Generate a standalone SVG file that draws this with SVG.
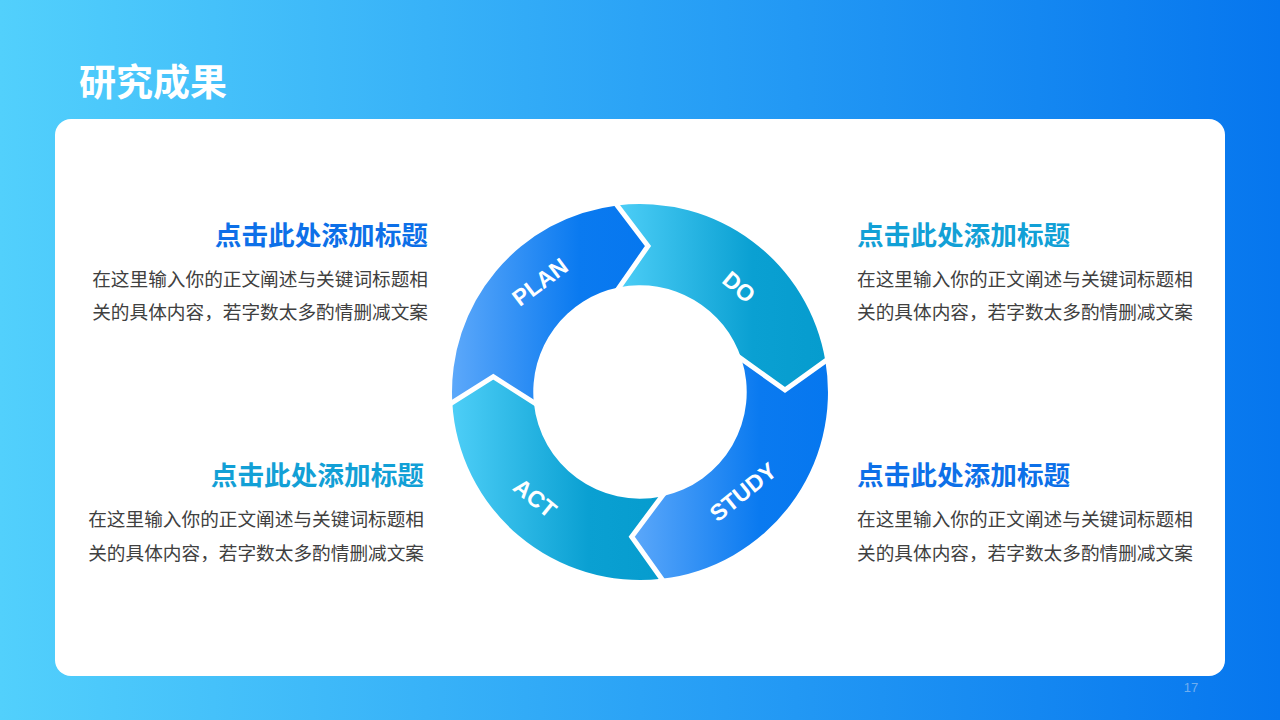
<svg xmlns="http://www.w3.org/2000/svg" width="1280" height="720" viewBox="0 0 1280 720">
  <defs>
    <linearGradient id="bg" x1="0" y1="0" x2="1" y2="0">
      <stop offset="0" stop-color="#52D0FC"/>
      <stop offset="0.5" stop-color="#2BA3F6"/>
      <stop offset="1" stop-color="#0676EE"/>
    </linearGradient>
    <linearGradient id="gBlue" x1="0" y1="0" x2="1" y2="0">
      <stop offset="0" stop-color="#5CA8FA"/>
      <stop offset="0.65" stop-color="#0A7AF0"/>
      <stop offset="1" stop-color="#0677EF"/>
    </linearGradient>
    <linearGradient id="gTeal" x1="0" y1="0" x2="1" y2="0">
      <stop offset="0" stop-color="#4DCEF7"/>
      <stop offset="0.65" stop-color="#0AA0D2"/>
      <stop offset="1" stop-color="#069CCE"/>
    </linearGradient>
    <style>
      .hdr{font-family:"Noto Sans CJK SC","Noto Sans",sans-serif;font-weight:700;font-size:37px;fill:#fff}
      .ttl{font-family:"Noto Sans CJK SC","Noto Sans",sans-serif;font-weight:700;font-size:26.67px}
      .blue{fill:#0D70E8}
      .teal{fill:#12A0D6}
      .body{font-family:"Noto Sans CJK SC","Noto Sans",sans-serif;font-size:18.67px;fill:#404040}
      .lbl{font-family:"Liberation Sans",Arial,sans-serif;font-weight:700;font-size:23px;fill:#fff;text-anchor:middle}
      .gap{fill:none;stroke:#fff;stroke-width:5;stroke-linejoin:miter;stroke-miterlimit:10}
      .pg{font-family:"Liberation Sans",Arial,sans-serif;font-size:13px;fill:#6FAEEF;text-anchor:middle}
    </style>
  </defs>

  <rect x="0" y="0" width="1280" height="720" fill="url(#bg)"/>
  <text class="hdr" x="79" y="96">研究成果</text>
  <rect x="55" y="119" width="1170" height="557" rx="16" ry="16" fill="#fff"/>
  <text class="pg" x="1191" y="692">17</text>

  <g id="seg-plan">
    <path d="M452.3,402.5 A188,188 0 0 1 617.1,205.4 L648,246 L619.3,287.3 A106.7,106.7 0 0 0 533.8,402.6 L493.3,376.7 Z" fill="url(#gBlue)"/>
    <text class="lbl" transform="translate(540,282) rotate(-37)" y="8">PLAN</text>
  </g>
  <g id="seg-do">
    <path d="M617.1,205.4 A188,188 0 0 1 825.4,361 L785,390 L741.5,359 A106.7,106.7 0 0 0 619.3,287.3 L648,246 Z" fill="url(#gTeal)"/>
    <text class="lbl" transform="translate(739,287) rotate(40)" y="8">DO</text>
  </g>
  <g id="seg-study">
    <path d="M825.4,361 A188,188 0 0 1 661.6,578.8 L631.7,536.7 L661.8,496.4 A106.7,106.7 0 0 0 741.5,359 L785,390 Z" fill="url(#gBlue)"/>
    <text class="lbl" transform="translate(743,492) rotate(-39)" y="8">STUDY</text>
  </g>
  <g id="seg-act">
    <path d="M661.6,578.8 A188,188 0 0 1 452.3,402.5 L493.3,376.7 L533.8,402.6 A106.7,106.7 0 0 0 661.8,496.4 L631.7,536.7 Z" fill="url(#gTeal)"/>
    <text class="lbl" transform="translate(535,498) rotate(39)" y="8">ACT</text>
  </g>

  <g id="separators">
    <polyline class="gap" points="614.0,201.3 648,246 616.4,291.4"/>
    <polyline class="gap" points="829.4,358.1 785,390 737.2,355.9"/>
    <polyline class="gap" points="664.6,583.0 631.7,536.7 664.8,492.4"/>
    <polyline class="gap" points="448.2,405.1 493.3,376.7 537.9,405.2"/>
  </g>

  <g id="text-top-left">
    <text class="ttl blue" x="428" y="245" text-anchor="end">点击此处添加标题</text>
    <text class="body" x="428" y="285.5" text-anchor="end">在这里输入你的正文阐述与关键词标题相</text>
    <text class="body" x="428" y="319" text-anchor="end">关的具体内容，若字数太多酌情删减文案</text>
  </g>
  <g id="text-top-right">
    <text class="ttl teal" x="857" y="245">点击此处添加标题</text>
    <text class="body" x="857" y="285.5">在这里输入你的正文阐述与关键词标题相</text>
    <text class="body" x="857" y="319">关的具体内容，若字数太多酌情删减文案</text>
  </g>
  <g id="text-bottom-left">
    <text class="ttl teal" x="424" y="485" text-anchor="end">点击此处添加标题</text>
    <text class="body" x="424" y="526" text-anchor="end">在这里输入你的正文阐述与关键词标题相</text>
    <text class="body" x="424" y="560" text-anchor="end">关的具体内容，若字数太多酌情删减文案</text>
  </g>
  <g id="text-bottom-right">
    <text class="ttl blue" x="857" y="485">点击此处添加标题</text>
    <text class="body" x="857" y="526">在这里输入你的正文阐述与关键词标题相</text>
    <text class="body" x="857" y="560">关的具体内容，若字数太多酌情删减文案</text>
  </g>
</svg>
